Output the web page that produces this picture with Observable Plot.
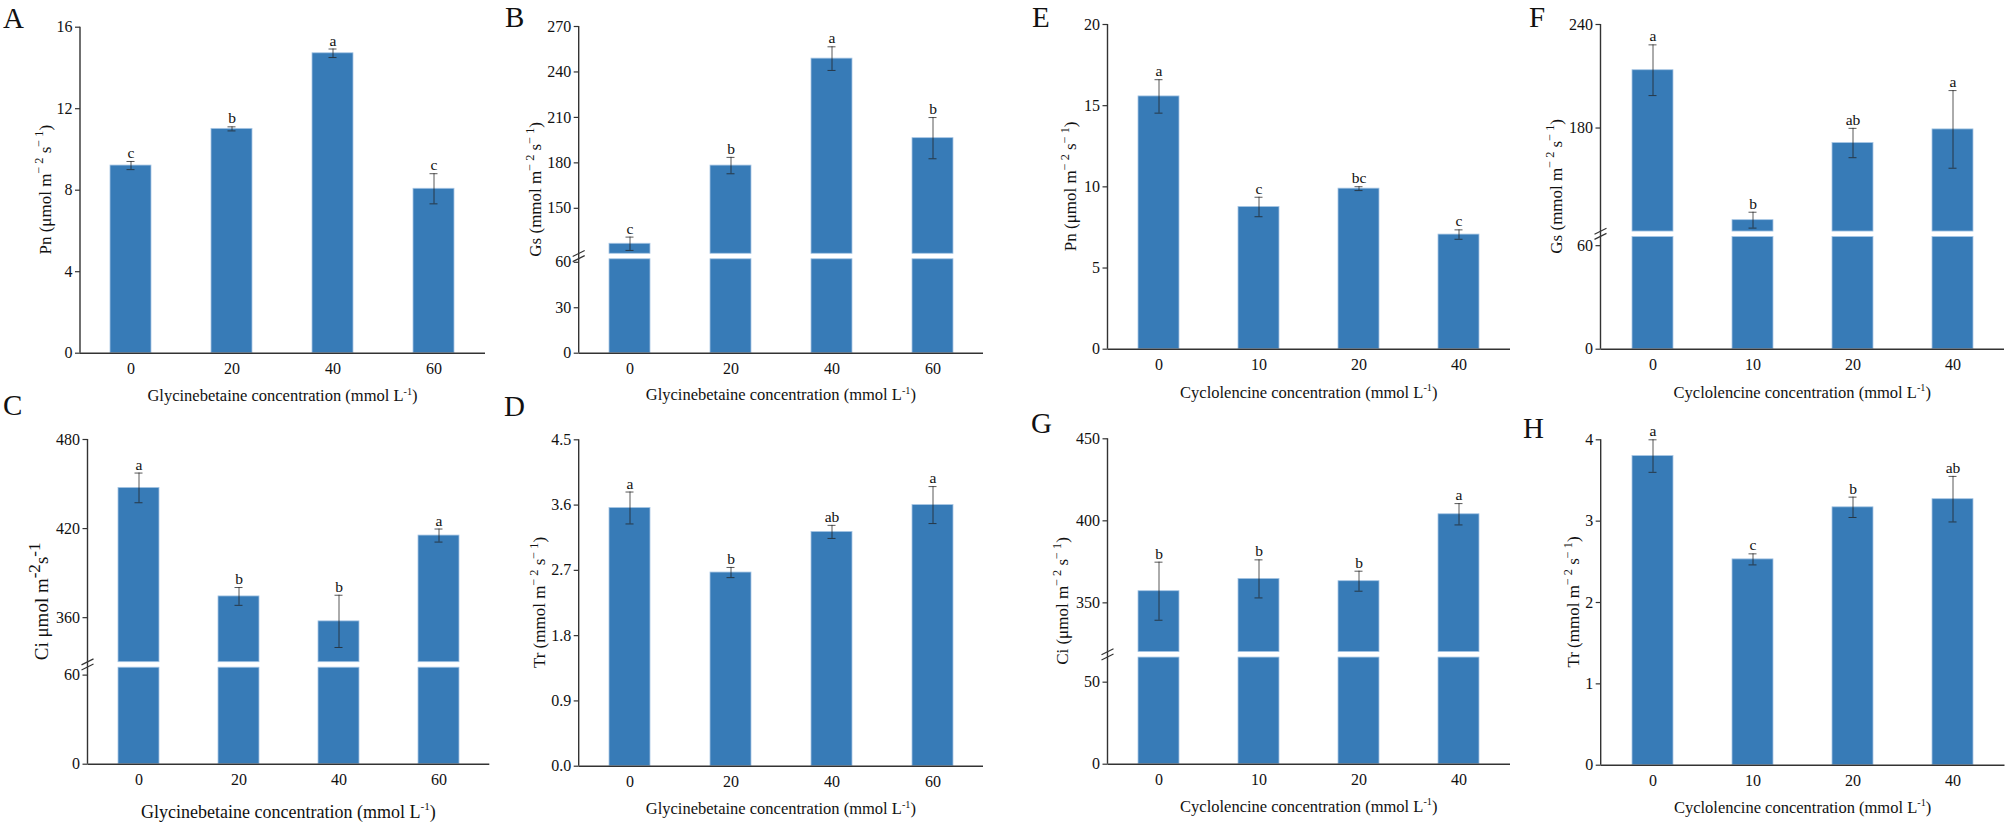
<!DOCTYPE html>
<html><head><meta charset="utf-8">
<script src="https://cdn.jsdelivr.net/npm/d3@7"></script>
<script src="https://cdn.jsdelivr.net/npm/@observablehq/plot@0.6"></script>
<style>
body{margin:0;background:#fff;}
#root{position:relative;width:2006px;height:824px;overflow:hidden;font-family:"Liberation Serif","Times New Roman",serif;color:#111;}
.panel{position:absolute;}
.letter{position:absolute;font-size:29px;line-height:1.2;}
</style></head><body><div id="root"></div>
<script>
// ---------- data ----------
const gbConc = ["0", "20", "40", "60"];
const clConc = ["0", "10", "20", "40"];

const pnGB = [9.21, 11.01, 14.72, 8.07];
const pnGBErr = [0.2, 0.1, 0.21, 0.74];
const pnGBSig = ["c", "b", "a", "c"];

const gsGB = [126.6, 178.2, 248.8, 196.3];
const gsGBErr = [4.4, 5.4, 7.8, 13.6];
const gsGBSig = ["c", "b", "a", "b"];

const ciGB = [447.4, 374.3, 357.5, 415.3];
const ciGBErr = [10, 6, 17.6, 4.4];
const ciGBSig = ["a", "b", "b", "a"];

const trGB = [3.56, 2.67, 3.23, 3.60];
const trGBErr = [0.22, 0.07, 0.09, 0.255];
const trGBSig = ["a", "b", "ab", "a"];

const pnCL = [15.57, 8.76, 9.89, 7.06];
const pnCLErr = [1.03, 0.6, 0.12, 0.29];
const pnCLSig = ["a", "c", "bc", "c"];

const gsCL = [213.5, 126.6, 171.3, 179.2];
const gsCLErr = [14.7, 4.6, 8.5, 22.5];
const gsCLSig = ["a", "b", "ab", "a"];

const ciCL = [357.1, 364.6, 363.2, 404.0];
const ciCLErr = [17.7, 11.6, 6.1, 6.5];
const ciCLSig = ["b", "b", "b", "a"];

const trCL = [3.80, 2.53, 3.17, 3.27];
const trCLErr = [0.2, 0.068, 0.125, 0.28];
const trCLSig = ["a", "c", "b", "ab"];

const ticksA = [0, 4, 8, 12, 16];
const ticksB = [0, 30, 60, 150, 180, 210, 240, 270];
const ticksC = [0, 60, 360, 420, 480];
const ticksD = [0, 0.9, 1.8, 2.7, 3.6, 4.5];
const ticksE = [0, 5, 10, 15, 20];
const ticksF = [0, 60, 180, 240];
const ticksG = [0, 50, 350, 400, 450];
const ticksH = [0, 1, 2, 3, 4];

// axis titles: plain strings, arrays mark superscripts
const xLabelGB = ["Glycinebetaine concentration (mmol L", ["-1"], ")"];
const xLabelCL = ["Cyclolencine concentration (mmol L", ["-1"], ")"];
const yLabelPn = ["Pn (\u03BCmol m", ["\u2212", "2"], " s", ["\u2212", "1"], ")"];
const yLabelGs = ["Gs (mmol m", ["\u2212", "2"], " s", ["\u2212", "1"], ")"];
const yLabelTr = ["Tr (mmol m", ["\u2212", "2"], " s", ["\u2212", "1"], ")"];
const yLabelCiGB = ["Ci \u03BCmol m", ["-2"], "s", ["-1"]];
const yLabelCiCL = ["Ci (\u03BCmol m", ["\u2212", "2"], " s", ["\u2212", "1"], ")"];

// ---------- drawing ----------
const root = document.getElementById("root");
const BLUE = "#377bb7";
const AXIS = "#333";
const FONT = '"Liberation Serif", "Times New Roman", serif';

function richText(sel, parts, fs, supScale) {
  let shifted = false;
  for (const p of parts) {
    const t = sel.append("tspan");
    if (Array.isArray(p)) {
      t.attr("font-size", fs * supScale).attr("dy", shifted ? 0 : -0.42 * fs).text(p.join(" "));
      shifted = true;
    } else {
      t.attr("font-size", fs).attr("dy", shifted ? 0.42 * fs : 0).text(p);
      shifted = false;
    }
  }
}

function panel(cfg) {
  const {letter, letterPos, left, top, width, height, mL, mR, mT, mB, conc, vals, errs, sigs,
         domain, ticks, brk, fmt = d3.format("d"), ylabel, ylabelDx, ylabelSize = 17, xlabel, xlabelDy, xlabelSize = 16.5, supScale = 0.72} = cfg;
  const data = conc.map((c, i) => ({c, v: vals[i], e: errs[i], s: sigs[i]}));
  let yScale;
  const y0 = height - mB;
  if (brk) {
    const [lo, hi] = brk;
    const gap = 5.5;
    const k = (y0 - mT - gap) / ((lo - domain[0]) + (domain[1] - hi));
    yScale = {type: "linear", domain: [domain[0], lo, hi, domain[1]], range: [y0, y0 - lo * k, y0 - lo * k - gap, mT]};
  } else {
    yScale = {type: "linear", domain};
  }
  const barStyle = {fill: BLUE, stroke: "#a7c6e4", strokeWidth: 0.8};
  const marks = [];
  if (brk) {
    const [lo, hi] = brk;
    marks.push(Plot.barY(data, {x: "c", y1: 0, y2: d => Math.min(d.v, lo), ...barStyle}));
    marks.push(Plot.barY(data.filter(d => d.v > hi), {x: "c", y1: hi, y2: "v", ...barStyle}));
  } else {
    marks.push(Plot.barY(data, {x: "c", y1: 0, y2: "v", ...barStyle}));
  }
  // error bars
  const eb = {stroke: "#222", strokeOpacity: 0.75, strokeWidth: 1};
  marks.push(Plot.ruleX(data, {x: "c", y1: d => d.v - d.e, y2: d => d.v + d.e, ...eb}));
  marks.push(Plot.tickY(data, {x: "c", y: d => d.v + d.e, ...eb, insetLeft: 16.5, insetRight: 16.5}));
  marks.push(Plot.tickY(data, {x: "c", y: d => d.v - d.e, ...eb, insetLeft: 16.5, insetRight: 16.5}));
  // significance letters
  marks.push(Plot.text(data, {x: "c", y: d => d.v + d.e, text: "s", lineAnchor: "bottom", dy: -3.5, fontSize: 15.5, fill: "#111"}));
  // axes
  marks.push(Plot.axisY({ticks, tickSize: 5, tickPadding: 3, label: null, tickFormat: fmt, fontSize: 16, stroke: AXIS, strokeWidth: 1.2, fill: "#111"}));
  marks.push(Plot.axisX({tickSize: 0, tickPadding: 9, label: null, fontSize: 16, fill: "#111"}));
  marks.push(Plot.ruleY([0], {stroke: AXIS, strokeWidth: 1.4}));
  // y axis line, axis break marks and axis titles
  marks.push((index, scales, values, dims) => {
    const g = d3.create("svg:g");
    const x = dims.marginLeft;
    const fTop = dims.marginTop, fBot = dims.height - dims.marginBottom;
    const fLeft = dims.marginLeft, fRight = dims.width - dims.marginRight;
    g.append("line").attr("stroke", AXIS).attr("x1", x).attr("x2", x).attr("y1", fTop).attr("y2", fBot).attr("stroke-width", 1.4);
    if (brk) {
      const yb = (scales.y(brk[0]) + scales.y(brk[1])) / 2;
      for (const off of [-2.6, 2.6]) {
        g.append("line").attr("stroke", AXIS).attr("stroke-width", 1.2)
          .attr("x1", x - 6).attr("y1", yb + off + 3).attr("x2", x + 6).attr("y2", yb + off - 3);
      }
    }
    const yt = g.append("text")
      .attr("transform", `translate(${x + ylabelDx},${(fTop + fBot) / 2}) rotate(-90)`)
      .attr("text-anchor", "middle").attr("fill", "#111").attr("font-family", FONT)
      .attr("y", 0.33 * ylabelSize);
    richText(yt, ylabel, ylabelSize, supScale);
    const xt = g.append("text")
      .attr("x", (fLeft + fRight) / 2).attr("y", fBot + xlabelDy + 0.33 * xlabelSize)
      .attr("text-anchor", "middle").attr("fill", "#111").attr("font-family", FONT);
    richText(xt, xlabel, xlabelSize, 0.62);
    return g.node();
  });

  const svg = Plot.plot({
    width, height,
    marginLeft: mL, marginRight: mR, marginTop: mT, marginBottom: mB,
    style: {fontFamily: FONT, fontSize: "16px", color: "#111", background: "transparent", overflow: "visible"},
    x: {type: "band", domain: conc, paddingInner: 0.594, paddingOuter: 0.297, align: 0.5},
    y: yScale,
    marks
  });
  const wrap = document.createElement("div");
  wrap.className = "panel";
  wrap.style.left = left + "px";
  wrap.style.top = top + "px";
  wrap.appendChild(svg);
  root.appendChild(wrap);

  // panel letter: baseline placed so that the letter's font box stays inside the picture
  const L = document.createElement("div");
  L.className = "letter";
  L.textContent = letter;
  L.style.left = letterPos[0] + "px";
  L.style.top = Math.max(letterPos[1] - 8.8, 0) + "px";
  root.appendChild(L);
}

const H = 412;
// top row
panel({letter: "A", letterPos: [3, 10], left: 0, top: 0, width: 500, height: H, mL: 80, mR: 15, mT: 26.7, mB: H - 352.7,
  conc: gbConc, vals: pnGB, errs: pnGBErr, sigs: pnGBSig, domain: [0, 16], ticks: ticksA,
  ylabel: yLabelPn, ylabelDx: -35, xlabel: xLabelGB, xlabelDy: 43.3});
panel({letter: "B", letterPos: [505, 3], left: 490, top: 0, width: 510, height: H, mL: 88.7, mR: 17, mT: 26, mB: H - 352.7,
  conc: gbConc, vals: gsGB, errs: gsGBErr, sigs: gsGBSig, domain: [0, 270], ticks: ticksB, brk: [62, 120],
  ylabel: yLabelGs, ylabelDx: -43, xlabel: xLabelGB, xlabelDy: 42.3});
panel({letter: "E", letterPos: [1032, 5], left: 1000, top: 0, width: 520, height: H, mL: 107.5, mR: 10, mT: 24, mB: H - 348.7,
  conc: clConc, vals: pnCL, errs: pnCLErr, sigs: pnCLSig, domain: [0, 20], ticks: ticksE,
  ylabel: yLabelPn, ylabelDx: -37, xlabel: xLabelCL, xlabelDy: 43.6});
panel({letter: "F", letterPos: [1529, 3], left: 1510, top: 0, width: 496, height: H, mL: 90.5, mR: 2, mT: 24, mB: H - 348.7,
  conc: clConc, vals: gsCL, errs: gsCLErr, sigs: gsCLSig, domain: [0, 240], ticks: ticksF, brk: [65, 120],
  ylabel: yLabelGs, ylabelDx: -44.5, xlabel: xLabelCL, xlabelDy: 43.6});
// bottom row
panel({letter: "C", letterPos: [3, 397], left: 0, top: H, width: 500, height: H, mL: 87.5, mR: 10.7, mT: 439 - H, mB: 2 * H - 763.7,
  conc: gbConc, vals: ciGB, errs: ciGBErr, sigs: ciGBSig, domain: [0, 480], ticks: ticksC, brk: [65, 330],
  ylabel: yLabelCiGB, ylabelDx: -46, ylabelSize: 19, supScale: 0.9, xlabel: xLabelGB, xlabelDy: 48.3, xlabelSize: 18});
panel({letter: "D", letterPos: [504, 398], left: 490, top: H, width: 510, height: H, mL: 88.7, mR: 17, mT: 439.3 - H, mB: 2 * H - 765.7,
  conc: gbConc, vals: trGB, errs: trGBErr, sigs: trGBSig, domain: [0, 4.5], ticks: ticksD, fmt: d3.format(".1f"),
  ylabel: yLabelTr, ylabelDx: -39, xlabel: xLabelGB, xlabelDy: 43.3});
panel({letter: "G", letterPos: [1031, 415], left: 1000, top: H, width: 520, height: H, mL: 107.5, mR: 10, mT: 438.3 - H, mB: 2 * H - 763.7,
  conc: clConc, vals: ciCL, errs: ciCLErr, sigs: ciCLSig, domain: [0, 450], ticks: ticksG, brk: [65, 320],
  ylabel: yLabelCiCL, ylabelDx: -45, xlabel: xLabelCL, xlabelDy: 43});
panel({letter: "H", letterPos: [1523, 420], left: 1510, top: H, width: 496, height: H, mL: 90.7, mR: 1.5, mT: 439.3 - H, mB: 2 * H - 764.7,
  conc: clConc, vals: trCL, errs: trCLErr, sigs: trCLSig, domain: [0, 4], ticks: ticksH,
  ylabel: yLabelTr, ylabelDx: -27, xlabel: xLabelCL, xlabelDy: 42.6});
</script>
</body></html>
